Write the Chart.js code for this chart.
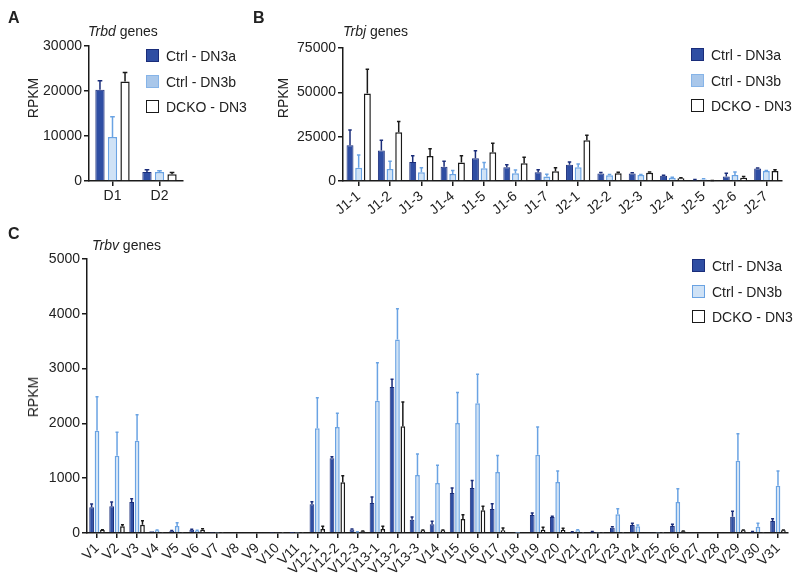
<!DOCTYPE html>
<html>
<head>
<meta charset="utf-8">
<script src="https://cdn.jsdelivr.net/npm/chart.js@4.4.1/dist/chart.umd.min.js"></script>
<style>
  body { margin: 0; background: #fff; }
  #page { position: relative; width: 800px; height: 579px; overflow: hidden;
          font-family: 'Liberation Sans', Arial, sans-serif; color: #222; }
  canvas { position: absolute; }
  .txt { position: absolute; white-space: nowrap; line-height: 1; }
  .letter { font-size: 16px; font-weight: bold; }
  .title { font-size: 14px; }
  .ylab { font-size: 14px; transform: translate(-50%, -50%) rotate(-90deg); }
  .leg { position: absolute; font-size: 14px; line-height: 1; }
  .leg .sw { position: absolute; width: 11px; height: 11px; border: 1.5px solid; }
  .leg .lt { position: absolute; left: 20px; top: 0px; white-space: nowrap; }
</style>
</head>
<body>
<div id="page">
  <canvas id="chartA" width="260" height="215" style="left:0;top:0"></canvas>
  <canvas id="chartB" width="540" height="215" style="left:260px;top:0"></canvas>
  <canvas id="chartC" width="800" height="364" style="left:0;top:215px"></canvas>

  <div class="txt letter" style="left:8px;top:10px">A</div>
  <div class="txt letter" style="left:253px;top:10px">B</div>
  <div class="txt letter" style="left:8px;top:226px">C</div>

  <div class="txt title" style="left:88px;top:24px"><i>Trbd</i> genes</div>
  <div class="txt title" style="left:343px;top:24px"><i>Trbj</i> genes</div>
  <div class="txt title" style="left:92px;top:238px"><i>Trbv</i> genes</div>

  <div class="txt ylab" style="left:33px;top:98px">RPKM</div>
  <div class="txt ylab" style="left:283px;top:98px">RPKM</div>
  <div class="txt ylab" style="left:33px;top:397px">RPKM</div>

  <div id="legA" class="leg" style="left:146px;top:49px"></div>
  <div id="legB" class="leg" style="left:691px;top:48px"></div>
  <div id="legC" class="leg" style="left:692px;top:259px"></div>
</div>

<script>
// Trbd genes (panel A)
const dLabels = ['D1', 'D2'];
const dDN3a = [20300, 2000];
const dDN3aSd = [2000, 500];
const dDN3b = [9800, 2000];
const dDN3bSd = [4500, 300];
const dDCKO = [22100, 1500];
const dDCKOSd = [2000, 400];

// Trbj genes (panel B)
const jLabels = ['J1-1', 'J1-2', 'J1-3', 'J1-4', 'J1-5', 'J1-6', 'J1-7',
                 'J2-1', 'J2-2', 'J2-3', 'J2-4', 'J2-5', 'J2-6', 'J2-7'];
const jDN3a = [20200, 17200, 10700, 8100, 12800, 7700, 4900, 9200, 4200, 4200, 3000, 600, 2600, 7000];
const jDN3aSd = [8600, 5800, 3600, 3000, 4300, 1500, 1500, 1500, 600, 500, 300, 200, 1700, 300];
const jDN3b = [7500, 6800, 4900, 4000, 7200, 4300, 2500, 7700, 3200, 3400, 1900, 900, 3400, 5600];
const jDN3bSd = [7200, 4300, 2600, 1900, 3200, 1900, 1300, 1900, 400, 300, 200, 300, 1700, 300];
const jDCKO = [49400, 27500, 14100, 10400, 16200, 10000, 5500, 23000, 4300, 4700, 1500, 200, 1900, 5700];
const jDCKOSd = [13600, 6000, 4100, 3800, 5100, 3400, 2000, 2800, 600, 400, 400, 100, 700, 600];

// Trbv genes (panel C)
const vLabels = ['V1', 'V2', 'V3', 'V4', 'V5', 'V6', 'V7', 'V8', 'V9', 'V10', 'V11',
                 'V12-1', 'V12-2', 'V12-3', 'V13-1', 'V13-2', 'V13-3',
                 'V14', 'V15', 'V16', 'V17', 'V18', 'V19', 'V20', 'V21', 'V22', 'V23',
                 'V24', 'V25', 'V26', 'V27', 'V28', 'V29', 'V30', 'V31'];
const vDN3a = [470, 490, 565, 30, 40, 60, 5, 0, 0, 3, 2,
               523, 1365, 65, 547, 2665, 243,
               158, 730, 820, 440, 0, 328, 292, 18, 24, 97,
               146, 10, 128, 0, 0, 298, 24, 219];
const vDN3aSd = [60, 75, 60, 0, 5, 10, 0, 0, 0, 0, 0,
                 45, 25, 10, 110, 140, 50,
                 55, 90, 140, 95, 0, 37, 12, 3, 5, 15,
                 30, 0, 30, 0, 0, 97, 5, 43];
const vDN3b = [1867, 1410, 1685, 49, 128, 43, 3, 0, 0, 10, 3,
               1910, 1935, 18, 2415, 3530, 1058,
               912, 2007, 2366, 1113, 2, 1430, 930, 49, 5, 341,
               122, 5, 566, 0, 0, 1320, 116, 864];
const vDN3bSd = [620, 430, 475, 5, 60, 5, 0, 0, 0, 0, 0,
                 560, 250, 3, 690, 560, 385,
                 325, 555, 530, 300, 0, 505, 200, 10, 0, 103,
                 25, 0, 243, 0, 0, 493, 60, 267];
const vDCKO = [55, 122, 152, 3, 5, 61, 3, 0, 0, 2, 3,
               73, 925, 30, 73, 1946, 49,
               49, 255, 414, 49, 0, 61, 55, 2, 3, 2,
               18, 2, 30, 0, 0, 49, 5, 49];
const vDCKOSd = [5, 30, 73, 0, 0, 15, 0, 0, 0, 0, 0,
                 49, 121, 5, 49, 444, 5,
                 5, 80, 73, 40, 0, 42, 30, 0, 0, 0,
                 0, 0, 5, 0, 0, 5, 0, 5];

const seriesNames = ['Ctrl - DN3a', 'Ctrl - DN3b', 'DCKO - DN3'];

const DARK = '#2f4ea3', DARK_EDGE = '#1a2d7a';
const LIGHT = '#cfe2f6', LIGHT_EDGE = '#6aa3e3';
const WHITE = '#ffffff', BLACK = '#1a1a1a';

Chart.defaults.font.family = "'Liberation Sans', Arial, sans-serif";
Chart.defaults.font.size = 14;
Chart.defaults.color = '#222';

// upward-only error bars with a short cap
const errorBars = {
  id: 'errorBars',
  afterDatasetsDraw(chart) {
    const ctx = chart.ctx;
    const yScale = chart.scales.y;
    chart.data.datasets.forEach((ds, i) => {
      const meta = chart.getDatasetMeta(i);
      meta.data.forEach((bar, j) => {
        const sd = ds.sd[j];
        if (!sd) return;
        const top = yScale.getPixelForValue(ds.data[j] + sd);
        const cap = Math.max(1.5, bar.width * 0.25);
        ctx.save();
        ctx.strokeStyle = ds.errColor;
        ctx.lineWidth = 1.5;
        ctx.beginPath();
        ctx.moveTo(bar.x, bar.y);
        ctx.lineTo(bar.x, top);
        ctx.moveTo(bar.x - cap, top);
        ctx.lineTo(bar.x + cap, top);
        ctx.stroke();
        ctx.restore();
      });
    });
  }
};

function makeChart(id, labels, sets, opts) {
  const styles = [
    { bg: DARK, edge: DARK_EDGE, err: DARK_EDGE, bw: 1 },
    { bg: LIGHT, edge: LIGHT_EDGE, err: LIGHT_EDGE, bw: 1.5 },
    { bg: WHITE, edge: BLACK, err: BLACK, bw: 1.5 }
  ];
  return new Chart(document.getElementById(id), {
    type: 'bar',
    data: {
      labels: labels,
      datasets: sets.map((s, i) => ({
        label: seriesNames[i],
        data: s[0],
        sd: s[1],
        errColor: styles[i].err,
        backgroundColor: styles[i].bg,
        borderColor: styles[i].edge,
        borderWidth: styles[i].bw,
        categoryPercentage: opts.cat,
        barPercentage: opts.bar
      }))
    },
    options: {
      responsive: false,
      animation: false,
      devicePixelRatio: 1,
      layout: { padding: opts.pad },
      plugins: { legend: { display: false }, tooltip: { enabled: false } },
      scales: {
        x: {
          border: { color: BLACK, width: 1.5 },
          grid: { offset: false, drawOnChartArea: false, color: BLACK, lineWidth: 1.5, tickLength: 5 },
          ticks: { padding: 2, autoSkip: false, minRotation: opts.rot, maxRotation: opts.rot },
          afterFit: (scale) => { scale.height = opts.xh; }
        },
        y: {
          min: 0,
          max: opts.max,
          border: { color: BLACK, width: 1.5 },
          grid: { drawOnChartArea: false, color: BLACK, lineWidth: 1.5, tickLength: 5 },
          ticks: { stepSize: opts.step, padding: 2, callback: (v) => String(v) },
          afterFit: (scale) => { scale.width = opts.yw; }
        }
      }
    },
    plugins: [errorBars]
  });
}

makeChart('chartA', dLabels,
  [[dDN3a, dDN3aSd], [dDN3b, dDN3bSd], [dDCKO, dDCKOSd]],
  { max: 30000, step: 10000, pad: { top: 46, right: 77, bottom: 0, left: 0 },
    yw: 89, xh: 34, rot: 0, cat: 0.8, bar: 0.74 });

makeChart('chartB', jLabels,
  [[jDN3a, jDN3aSd], [jDN3b, jDN3bSd], [jDCKO, jDCKOSd]],
  { max: 75000, step: 25000, pad: { top: 48, right: 18, bottom: 0, left: 0 },
    yw: 83, xh: 34, rot: 40, cat: 0.83, bar: 0.8 });

makeChart('chartC', vLabels,
  [[vDN3a, vDN3aSd], [vDN3b, vDN3bSd], [vDCKO, vDCKOSd]],
  { max: 5000, step: 1000, pad: { top: 44, right: 12, bottom: 0, left: 0 },
    yw: 87, xh: 46, rot: 45, cat: 0.81, bar: 0.87 });

// legends
function makeLegend(id, swatches) {
  const box = document.getElementById(id);
  swatches.forEach((sw, i) => {
    const top = i * 25.5;
    const s = document.createElement('div');
    s.className = 'sw';
    s.style.top = top + 'px';
    s.style.left = '0px';
    s.style.background = sw.bg;
    s.style.borderColor = sw.edge;
    box.appendChild(s);
    const t = document.createElement('div');
    t.className = 'lt';
    t.style.top = (top + 0) + 'px';
    t.textContent = seriesNames[i];
    box.appendChild(t);
  });
}
const topLegend = [
  { bg: DARK, edge: DARK_EDGE },
  { bg: '#a9c7ea', edge: '#86b4e8' },
  { bg: WHITE, edge: BLACK }
];
makeLegend('legA', topLegend);
makeLegend('legB', topLegend);
makeLegend('legC', [
  { bg: DARK, edge: DARK_EDGE },
  { bg: LIGHT, edge: LIGHT_EDGE },
  { bg: WHITE, edge: BLACK }
]);
</script>
</body>
</html>
